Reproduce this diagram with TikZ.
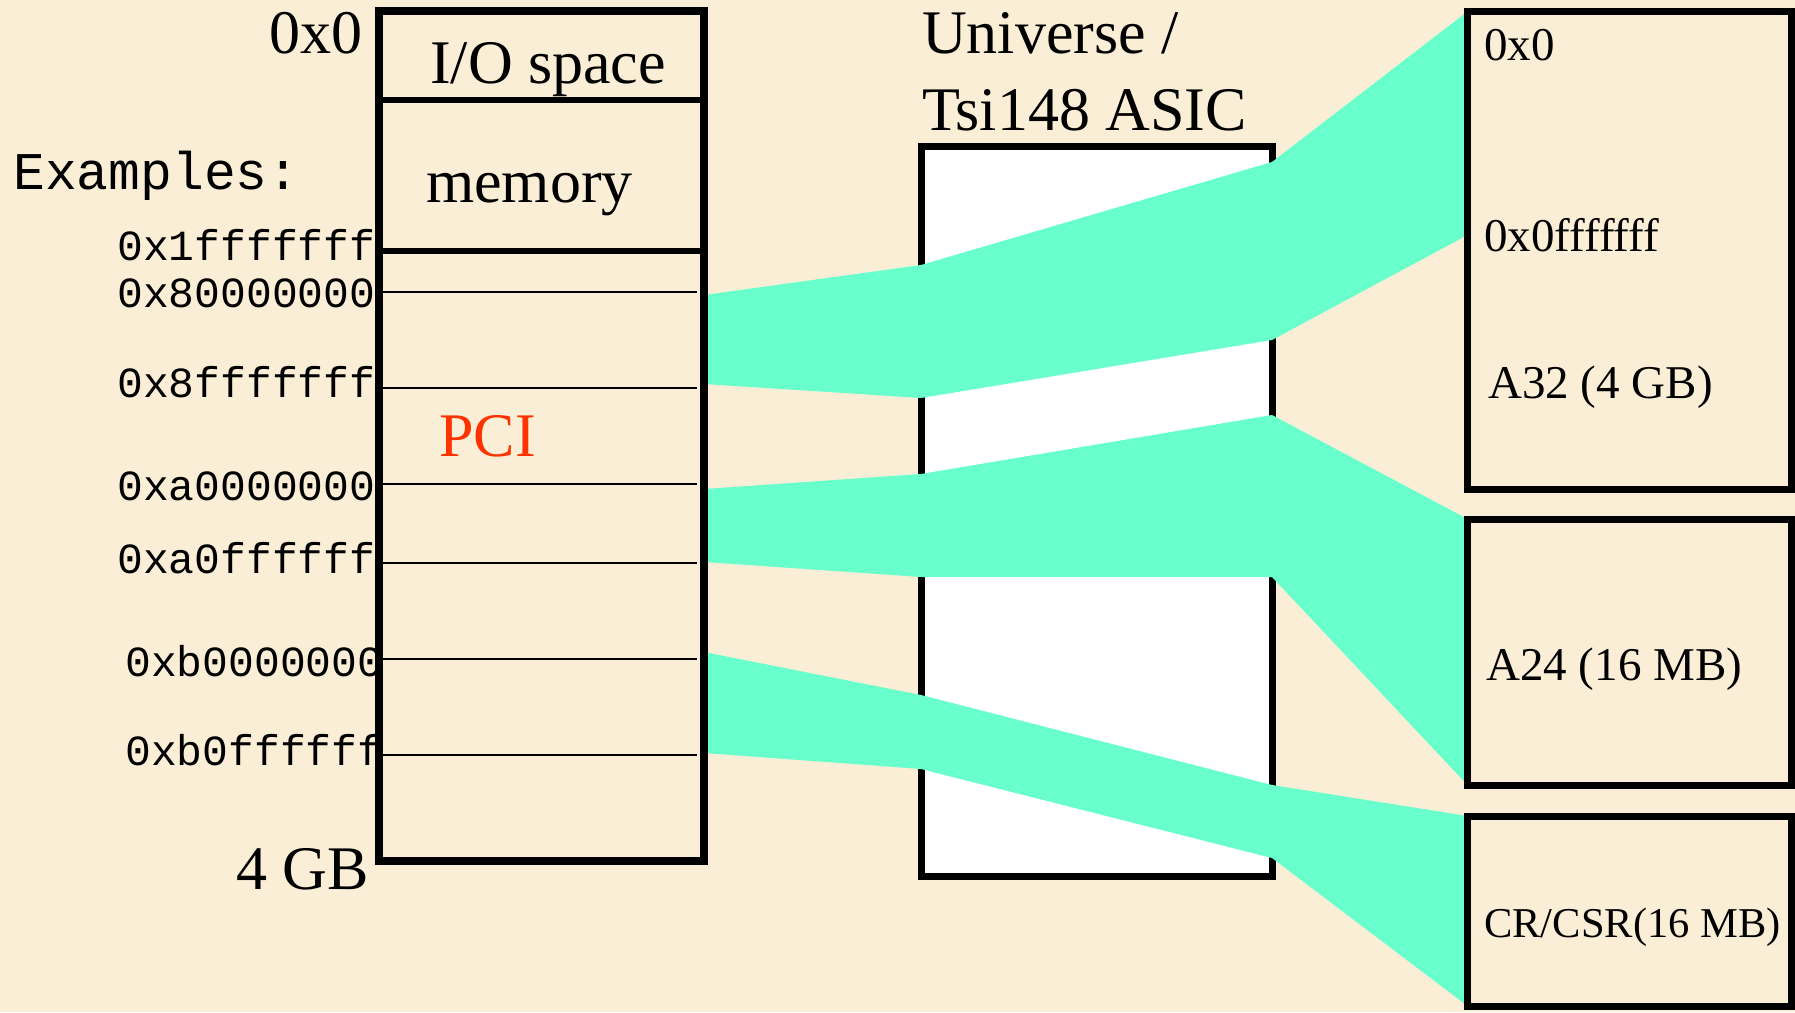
\documentclass[tikz,border=0pt]{standalone}
\usepackage{fontspec}
\setmainfont{Liberation Serif}
\setmonofont{Liberation Mono}
\definecolor{parchment}{HTML}{FAEED6}
\definecolor{bandgreen}{HTML}{68FFCC}
\definecolor{pcired}{HTML}{FF3300}
\pgfdeclarelayer{paper}
\pgfdeclarelayer{bands}
\pgfsetlayers{paper,bands,main}

\begin{document}
\begin{tikzpicture}[x=1pt,y=-1pt,
  frame/.style={draw=black, line width=7pt, inner sep=0pt, outer sep=0pt},
  divider/.style={line width=5.5pt},
  mark line/.style={line width=2pt},
  window/.style={fill=bandgreen, draw=none},
  bigtext/.style={inner sep=0pt, font=\fontsize{62}{62}\selectfont},
  boxtext/.style={inner sep=0pt, font=\fontsize{47}{47}\selectfont, anchor=base west},
  addr/.style={inner sep=0pt, font=\ttfamily\fontsize{43}{43}\selectfont, anchor=base west},
]
\useasboundingbox (0,0) rectangle (1795,1012);

% PCI address space column
\node[frame, line width=7.5pt, minimum width=325pt, minimum height=850pt] (pci) at (541.5,436) {};
\draw[divider] (pci.west |- 0,100) -- (pci.east |- 0,100);
\draw[divider] (pci.west |- 0,251) -- (pci.east |- 0,251);
\foreach \y in {292,388,484,563,659,755}
  \draw[mark line] (383,\y) -- (697,\y);

% VME address spaces
\node[frame, minimum width=323.5pt, minimum height=477.5pt] (a32) at (1629.25,250.25) {};
\node[frame, minimum width=323.5pt, minimum height=266pt] (a24) at (1629.25,652) {};
\node[frame, minimum width=323.5pt, minimum height=190pt] (csr) at (1629.25,911) {};

% labels of the PCI column
\node[bigtext, anchor=base east] (start) at (363,53) {0x0};
\node[bigtext, anchor=base west] (io) at (430,83) {I/O space};
\node[bigtext, anchor=base west] (mem) at (426,202) {memory};
\node[bigtext, anchor=base west, text=pcired] (pcilabel) at (439,456) {PCI};
\node[bigtext, anchor=base west] (end) at (236,889) {4 GB};
\node[inner sep=0pt, font=\ttfamily\fontsize{53}{53}\selectfont, anchor=base west] (ex) at (13,189) {Examples:};
\node[addr] (e1) at (117,260) {0x1fffffff};
\node[addr] (e2) at (117,307) {0x80000000};
\node[addr] (e3) at (117,397) {0x8fffffff};
\node[addr] (e4) at (117,500) {0xa0000000};
\node[addr] (e5) at (117,573) {0xa0ffffff};
\node[addr] (e6) at (125,676) {0xb0000000};
\node[addr] (e7) at (125,765) {0xb0ffffff};

% bridge chip title
\node[bigtext, anchor=base west] (title1) at (922,53) {Universe /};
\node[bigtext, anchor=base west] (title2) at (922,130) {Tsi148 ASIC};

% labels of the VME spaces
\node[boxtext] (v0) at (1484,60) {0x0};
\node[boxtext] (v1) at (1484,251) {0x0fffffff};
\node[boxtext] (v2) at (1488,398) {A32 (4 GB)};
\node[boxtext] (v3) at (1486,680) {A24 (16 MB)};
\node[boxtext, font=\fontsize{42.5}{42.5}\selectfont] (v4) at (1484,937) {CR/CSR(16 MB)};

\begin{pgfonlayer}{paper}
  \fill[parchment] (0,0) rectangle (1795,1012);
  \node[frame, fill=white, minimum width=351pt, minimum height=730pt] (asic) at (1096.5,511) {};
\end{pgfonlayer}

% address windows passing through the bridge
\begin{pgfonlayer}{bands}
  \fill[window] (pci.east |- 0,295) -- (asic.west |- 0,265) -- (asic.east |- 0,162)
    -- (a32.north west) -- (a32.west |- 0,235) -- (asic.east |- 0,340)
    -- (asic.west |- 0,398) -- (pci.east |- 0,384) -- cycle;
  \fill[window] (pci.east |- 0,489) -- (asic.west |- 0,474) -- (asic.east |- 0,415)
    -- (a24.north west) -- (a24.south west) -- (asic.east |- 0,577)
    -- (asic.west |- 0,577) -- (pci.east |- 0,562) -- cycle;
  \fill[window] (pci.east |- 0,652) -- (asic.west |- 0,695) -- (asic.east |- 0,785)
    -- (csr.north west) -- (csr.south west) -- (asic.east |- 0,858)
    -- (asic.west |- 0,769) -- (pci.east |- 0,753) -- cycle;
\end{pgfonlayer}
\end{tikzpicture}
\end{document}
